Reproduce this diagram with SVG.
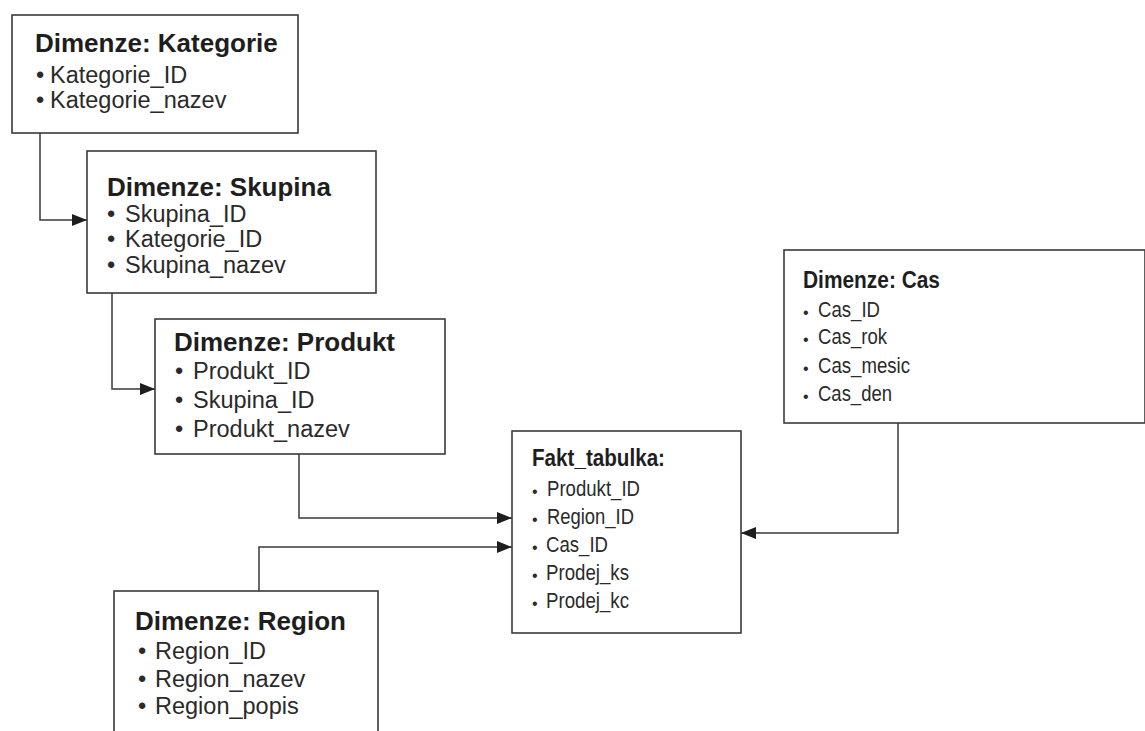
<svg xmlns="http://www.w3.org/2000/svg" width="1145" height="731" viewBox="0 0 1145 731">
<style>
.box{fill:#fff;stroke:#3a3a3a;stroke-width:1.6}
.t{font-family:"Liberation Sans",Arial,sans-serif;font-weight:bold;font-size:26px;fill:#1e1e1e}
.i{font-family:"Liberation Sans",Arial,sans-serif;font-size:23.5px;fill:#2a2a2a}
.tr{font-family:"Liberation Sans",Arial,sans-serif;font-weight:bold;font-size:24px;fill:#1e1e1e}
.ir{font-family:"Liberation Sans",Arial,sans-serif;font-size:22px;fill:#2a2a2a}
.b{font-family:"Liberation Sans",Arial,sans-serif;font-size:16px;fill:#2a2a2a}
.c{fill:none;stroke:#3a3a3a;stroke-width:1.5}
</style>
<defs>
<marker id="ah" markerUnits="userSpaceOnUse" markerWidth="16" markerHeight="12" refX="15" refY="6" orient="auto">
<path d="M0,0 L15,6 L0,12 Z" fill="#1e1e1e"/>
</marker>
</defs>
<rect width="1145" height="731" fill="#fff"/>
<g id="connectors">
<path class="c" d="M40,133 V220 H87" marker-end="url(#ah)"/>
<path class="c" d="M112,293 V389 H155" marker-end="url(#ah)"/>
<path class="c" d="M299,454 V518 H512" marker-end="url(#ah)"/>
<path class="c" d="M259,591 V547 H512" marker-end="url(#ah)"/>
<path class="c" d="M898,423 V533 H741" marker-end="url(#ah)"/>
</g>
<g id="kategorie">
<rect class="box" x="12" y="15" width="286" height="118"/>
<text class="t" x="35" y="52">Dimenze: Kategorie</text>
<text class="i" y="83"><tspan x="36">•</tspan><tspan x="50">Kategorie_ID</tspan></text>
<text class="i" y="108"><tspan x="36">•</tspan><tspan x="50">Kategorie_nazev</tspan></text>
</g>
<g id="skupina">
<rect class="box" x="87" y="151" width="289" height="142"/>
<text class="t" x="107" y="196">Dimenze: Skupina</text>
<text class="i" y="222"><tspan x="107">•</tspan><tspan x="125">Skupina_ID</tspan></text>
<text class="i" y="247"><tspan x="107">•</tspan><tspan x="125">Kategorie_ID</tspan></text>
<text class="i" y="273"><tspan x="107">•</tspan><tspan x="125">Skupina_nazev</tspan></text>
</g>
<g id="produkt">
<rect class="box" x="155" y="319" width="290" height="135"/>
<text class="t" x="174" y="351">Dimenze: Produkt</text>
<text class="i" y="379"><tspan x="175">•</tspan><tspan x="193">Produkt_ID</tspan></text>
<text class="i" y="408"><tspan x="175">•</tspan><tspan x="193">Skupina_ID</tspan></text>
<text class="i" y="437"><tspan x="175">•</tspan><tspan x="193">Produkt_nazev</tspan></text>
</g>
<g id="region">
<rect class="box" x="114" y="591" width="264" height="150"/>
<text class="t" x="135" y="630">Dimenze: Region</text>
<text class="i" y="659"><tspan x="138">•</tspan><tspan x="155">Region_ID</tspan></text>
<text class="i" y="687"><tspan x="138">•</tspan><tspan x="155">Region_nazev</tspan></text>
<text class="i" y="714"><tspan x="138">•</tspan><tspan x="155">Region_popis</tspan></text>
</g>
<g id="cas">
<rect class="box" x="784" y="250" width="361" height="173"/>
<text class="tr" x="803" y="288" textLength="137" lengthAdjust="spacingAndGlyphs">Dimenze: Cas</text>
<text class="b" x="803" y="318">•</text><text class="ir" x="818" y="317" textLength="62" lengthAdjust="spacingAndGlyphs">Cas_ID</text>
<text class="b" x="803" y="345">•</text><text class="ir" x="818" y="344" textLength="69" lengthAdjust="spacingAndGlyphs">Cas_rok</text>
<text class="b" x="803" y="374">•</text><text class="ir" x="818" y="373" textLength="92" lengthAdjust="spacingAndGlyphs">Cas_mesic</text>
<text class="b" x="803" y="402">•</text><text class="ir" x="818" y="401" textLength="74" lengthAdjust="spacingAndGlyphs">Cas_den</text>
</g>
<g id="fakt">
<rect class="box" x="512" y="431" width="229" height="202"/>
<text class="tr" x="532" y="466" textLength="133" lengthAdjust="spacingAndGlyphs">Fakt_tabulka:</text>
<text class="b" x="532" y="497">•</text><text class="ir" x="547" y="496" textLength="93" lengthAdjust="spacingAndGlyphs">Produkt_ID</text>
<text class="b" x="532" y="525">•</text><text class="ir" x="547" y="524" textLength="87" lengthAdjust="spacingAndGlyphs">Region_ID</text>
<text class="b" x="532" y="553">•</text><text class="ir" x="546" y="552" textLength="62" lengthAdjust="spacingAndGlyphs">Cas_ID</text>
<text class="b" x="532" y="581">•</text><text class="ir" x="546" y="580" textLength="83" lengthAdjust="spacingAndGlyphs">Prodej_ks</text>
<text class="b" x="532" y="609">•</text><text class="ir" x="546" y="608" textLength="83" lengthAdjust="spacingAndGlyphs">Prodej_kc</text>
</g>
</svg>
